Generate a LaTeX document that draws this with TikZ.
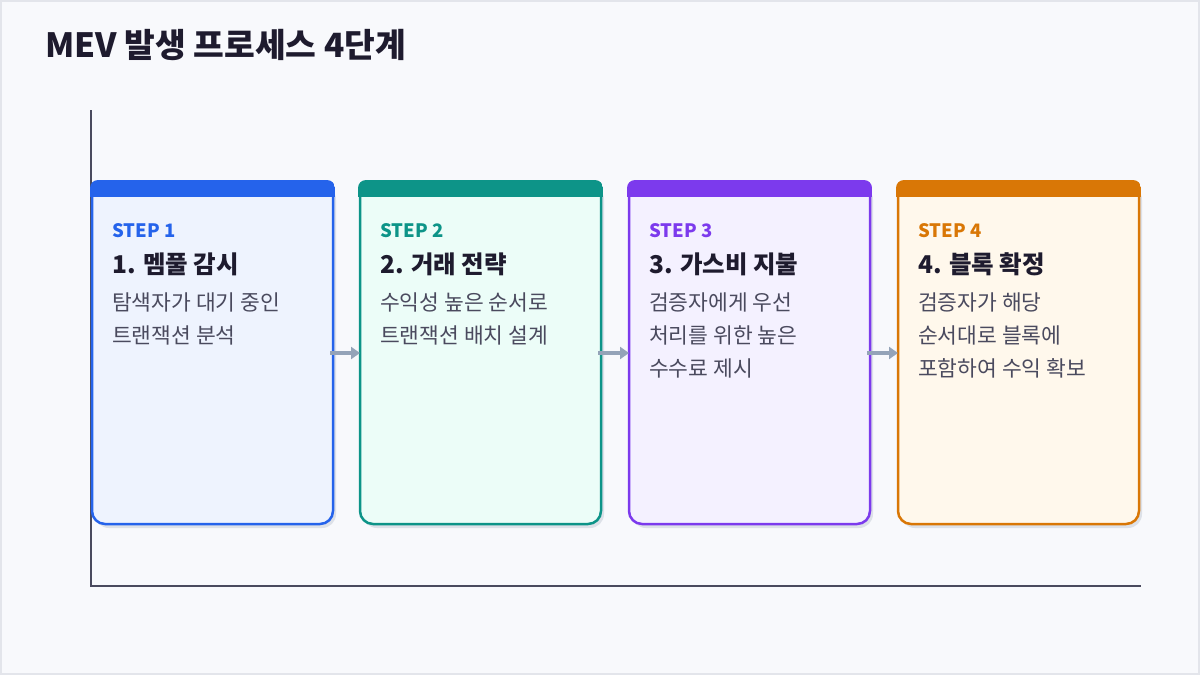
\documentclass[tikz,border=0pt]{standalone}
\usepackage{fontspec}
\setmainfont{Noto Sans CJK KR}
\usetikzlibrary{arrows.meta}
\definecolor{bgc}{HTML}{F8F9FC}
\definecolor{framec}{HTML}{E3E5EB}
\definecolor{axisc}{HTML}{4A4A5E}
\definecolor{darkc}{HTML}{1E1B2E}
\definecolor{bodyc}{HTML}{4A4A5E}
\definecolor{shadowc}{HTML}{DDE1E8}
\definecolor{arrowc}{HTML}{94A3B8}
\definecolor{cA}{HTML}{2563EB}\definecolor{fA}{HTML}{EEF3FE}
\definecolor{cB}{HTML}{0D9488}\definecolor{fB}{HTML}{ECFDF8}
\definecolor{cC}{HTML}{7C3AED}\definecolor{fC}{HTML}{F4F1FF}
\definecolor{cD}{HTML}{D97706}\definecolor{fD}{HTML}{FFF8EC}
\tikzset{
  steplabel/.style={anchor=base west, inner sep=0pt, font=\fontsize{18.5}{20}\selectfont\bfseries},
  titlelabel/.style={anchor=base west, inner sep=0pt, text=darkc, font=\fontsize{24.5}{28}\selectfont\bfseries},
  bodylabel/.style={anchor=base west, inner sep=0pt, text=bodyc,
     font=\fontsize{21.5}{33}\selectfont},
  flowarrow/.style={arrowc, line width=4pt, -{Triangle[length=9pt,width=12pt]}},
}
\newcommand{\bodylines}[1]{\begin{tabular}[t]{@{}l@{}}#1\end{tabular}}
\newcommand{\stepcard}[7]{%
  % #1 left x, #2 colour, #3 fill, #4 name, #5 step, #6 title, #7 body
  \begin{scope}[shift={(#1,0)}]
    \fill[shadowc, rounded corners=14] (3,186) rectangle (244,528);
    \fill[#3, rounded corners=12] (0,182) rectangle (241,524);
    \begin{scope}
      \clip[rounded corners=8] (-2,180) rectangle (243,230);
      \fill[#2] (-2,180) rectangle (243,197);
    \end{scope}
    \draw[#2, line width=2.5pt, rounded corners=13] (0,189) -- (0,524) -- (241,524) -- (241,189);
    \node[steplabel, text=#2] (#4s) at (20,237) {#5};
    \node[titlelabel] (#4t) at (20,273) {#6};
    \node[bodylabel] (#4b) at (20,310) {\bodylines{#7}};
    \coordinate (#4L) at (0,353);
    \coordinate (#4R) at (241,353);
  \end{scope}}
\begin{document}
\begin{tikzpicture}[x=1pt, y=-1pt]
  \fill[framec] (0,0) rectangle (1200,675);
  \fill[bgc] (2,2) rectangle (1198,673);
  \useasboundingbox (0,0) rectangle (1200,675);
  \node[anchor=base west, inner sep=0pt, text=darkc, font=\fontsize{33.4}{36}\selectfont\bfseries] (title) at (45,57) {MEV 발생 프로세스 4단계};
  \draw[axisc, line width=1.5pt] (91,110) -- (91,586) -- (1141,586);
  \stepcard{92}{cA}{fA}{a}{STEP 1}{1. 멤풀 감시}{탐색자가 대기 중인\\트랜잭션 분석}
  \stepcard{360}{cB}{fB}{b}{STEP 2}{2. 거래 전략}{수익성 높은 순서로\\트랜잭션 배치 설계}
  \stepcard{629}{cC}{fC}{c}{STEP 3}{3. 가스비 지불}{검증자에게 우선\\처리를 위한 높은\\수수료 제시}
  \stepcard{898}{cD}{fD}{d}{STEP 4}{4. 블록 확정}{검증자가 해당\\순서대로 블록에\\포함하여 수익 확보}
  \draw[flowarrow] ([xshift=-3pt]aR) -- (bL);
  \draw[flowarrow] ([xshift=-3pt]bR) -- (cL);
  \draw[flowarrow] ([xshift=-3pt]cR) -- (dL);
\end{tikzpicture}
\end{document}
